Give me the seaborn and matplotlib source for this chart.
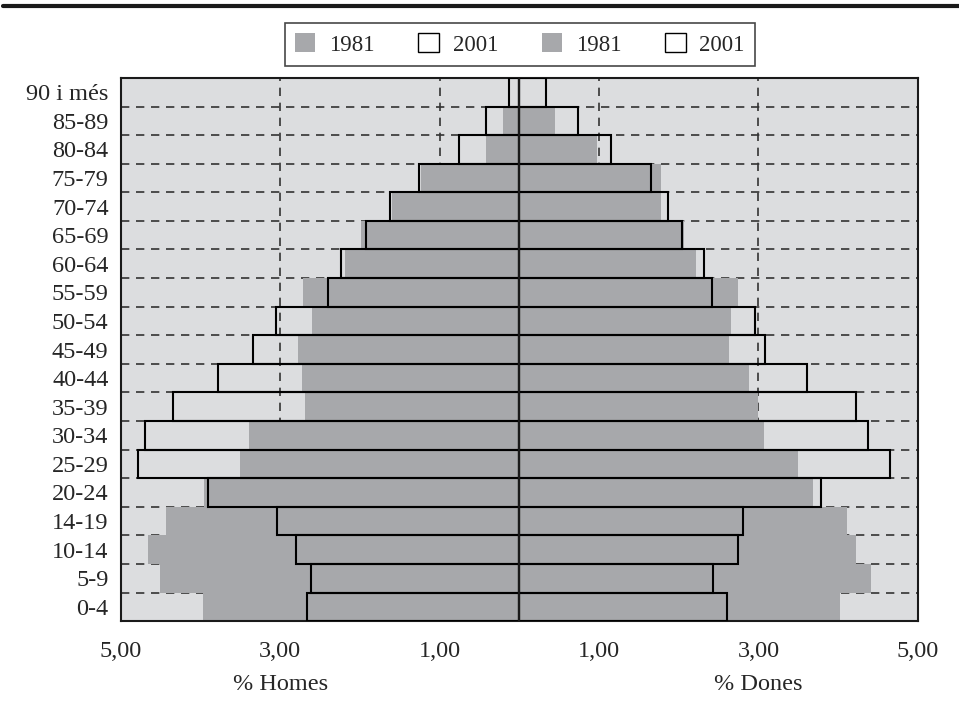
import numpy as np
import pandas as pd
import matplotlib
matplotlib.use('Agg')
import matplotlib.pyplot as plt
from matplotlib.patches import Patch
from matplotlib.lines import Line2D
import seaborn as sns

# grups d'edat (de dalt a baix)
ages = ['90 i més', '85-89', '80-84', '75-79', '70-74', '65-69', '60-64',
        '55-59', '50-54', '45-49', '40-44', '35-39', '30-34', '25-29',
        '20-24', '14-19', '10-14', '5-9', '0-4']

# % homes
homes_1981 = [0.00, 0.21, 0.42, 1.23, 1.60, 1.99, 2.19, 2.71, 2.60, 2.78,
              2.73, 2.69, 3.39, 3.51, 3.96, 4.44, 4.66, 4.51, 3.97]
homes_2001 = [0.13, 0.42, 0.76, 1.26, 1.62, 1.92, 2.24, 2.40, 3.06, 3.34,
              3.78, 4.35, 4.70, 4.79, 3.91, 3.04, 2.81, 2.61, 2.66]

# % dones
dones_1981 = [0.00, 0.45, 0.98, 1.78, 1.78, 2.07, 2.22, 2.74, 2.66, 2.63,
              2.88, 2.99, 3.07, 3.50, 3.68, 4.11, 4.22, 4.41, 4.02]
dones_2001 = [0.34, 0.73, 1.15, 1.65, 1.87, 2.04, 2.32, 2.42, 2.96, 3.08,
              3.61, 4.23, 4.38, 4.65, 3.78, 2.81, 2.74, 2.43, 2.60]

xticks = [-5, -3, -1, 1, 3, 5]
xticklabels = ['5,00', '3,00', '1,00', '1,00', '3,00', '5,00']

GRAY = '#a7a8ab'
BG = '#dcdddf'

sns.set_style('white')
plt.rcParams['font.family'] = ['Liberation Serif', 'DejaVu Serif']

df = pd.DataFrame({
    'edat': ages,
    'h81': -np.array(homes_1981),
    'h01': -np.array(homes_2001),
    'd81': dones_1981,
    'd01': dones_2001,
})

fig = plt.figure(figsize=(9.59, 7.09), dpi=100)
ax = fig.add_axes([0.1262, 0.124, 0.957 - 0.1262, 0.766])
ax.set_facecolor(BG)

# graella discontínua
dash = (0, (5, 4))
for v in [-3, -1, 1, 3]:
    ax.axvline(v, color='#333333', lw=1.2, ls=dash, zorder=0.5)
for k in range(len(ages) - 1):
    ax.axhline(k + 0.5, color='#333333', lw=1.2, ls=dash, zorder=0.5)

# barres 1981 (grises)
for col in ['h81', 'd81']:
    sns.barplot(data=df, x=col, y='edat', orient='y', color=GRAY,
                width=1.0, linewidth=0, edgecolor='none', errorbar=None,
                saturation=1, ax=ax, zorder=2)

# barres 2001 (buides, vora negra)
for col in ['h01', 'd01']:
    sns.barplot(data=df, x=col, y='edat', orient='y', fill=False,
                color='black', width=1.0, linewidth=1.5, errorbar=None,
                ax=ax, zorder=3)

ax.axvline(0, color='#1a1a1a', lw=1.6, zorder=4)

ax.set_xlim(-5, 5)
ax.set_ylim(len(ages) - 0.5, -0.5)
ax.set_xticks(xticks)
ax.set_xticklabels(xticklabels, fontsize=17.5)
ax.tick_params(axis='x', direction='out', length=5, width=1.2, color='black', pad=9)
ax.tick_params(axis='y', length=0, labelsize=17.5, pad=9)
ax.set_xlabel('')
ax.set_ylabel('')
for s in ax.spines.values():
    s.set_color('#1a1a1a')
    s.set_linewidth(1.5)

# etiquetes d'eix
trans = matplotlib.transforms.blended_transform_factory(ax.transData, fig.transFigure)
ax.text(-3, 1 - 684 / 709, '% Homes', transform=trans, ha='center', va='center', fontsize=17.5)
ax.text(3, 1 - 684 / 709, '% Dones', transform=trans, ha='center', va='center', fontsize=17.5)

# llegenda
handles = [Patch(facecolor=GRAY, edgecolor='none'),
           Patch(facecolor='white', edgecolor='black', linewidth=1),
           Patch(facecolor=GRAY, edgecolor='none'),
           Patch(facecolor='white', edgecolor='black', linewidth=1)]
labels = ['1981', '2001', '1981', '2001']
leg = fig.legend(handles, labels, loc='center', bbox_to_anchor=(0.542, 0.937),
                 ncol=4, fontsize=16.5, frameon=True, fancybox=False,
                 handlelength=0.9, handleheight=0.9, handletextpad=0.6,
                 columnspacing=1.9, borderpad=0.45)
leg.get_frame().set_edgecolor('#1a1a1a')
leg.get_frame().set_linewidth(1.2)

# línia superior
fig.add_artist(Line2D([0.003, 1.0], [1 - 6 / 709, 1 - 6 / 709], color='#1a1a1a', lw=3,
                      transform=fig.transFigure))

fig.savefig('out.png', dpi=100)
